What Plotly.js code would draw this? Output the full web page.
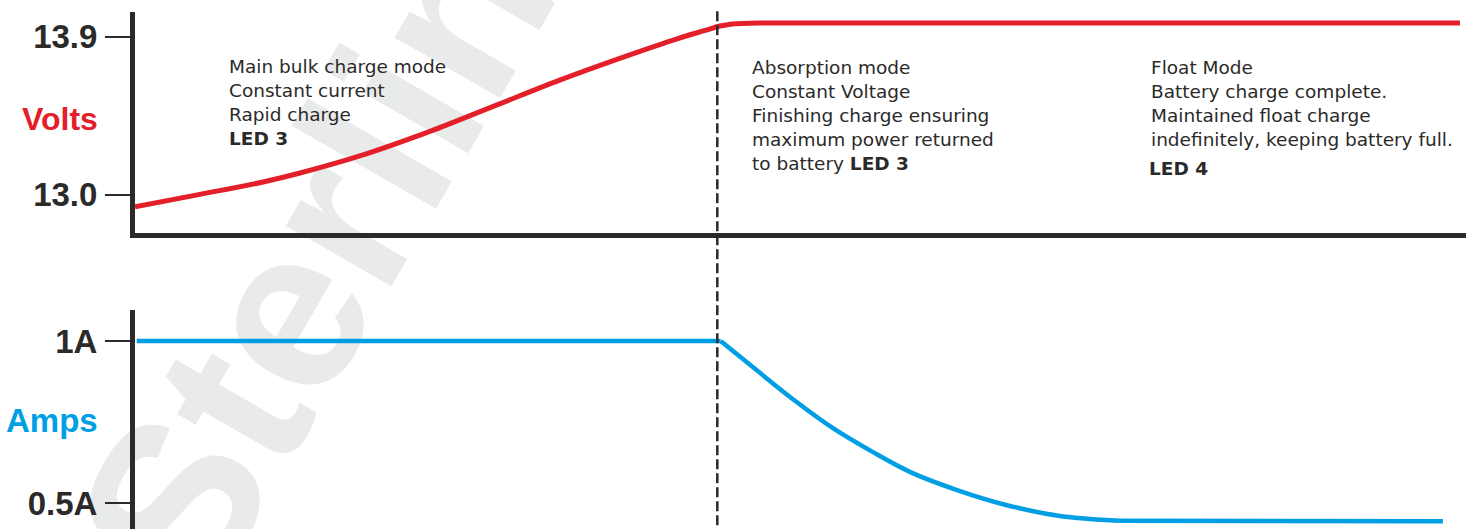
<!DOCTYPE html>
<html>
<head>
<meta charset="utf-8">
<script src="https://cdn.plot.ly/plotly-3.0.1.min.js"></script>
<style>
  html, body { margin: 0; padding: 0; background: #ffffff; }
  #chart { width: 1474px; height: 529px; }
</style>
</head>
<body>
<div id="chart"></div>
<script>
// ---- data ----
const voltTime = [0, 4.88, 9.62, 12.40, 17.13, 22.16, 27.20, 32.16, 36.96, 40.72, 42.83, 43.95, 45.08, 46.96, 99.55];
const volts    = [12.932, 13.003, 13.074, 13.125, 13.228, 13.362, 13.513, 13.661, 13.792, 13.889, 13.937, 13.962, 13.975, 13.979, 13.979];

const ampTime  = [0.13, 44.0, 46.88, 49.51, 52.44, 55.45, 58.38, 61.76, 65.44, 69.50, 74.0, 98.27];
const amps     = [1.0, 1.0, 0.904, 0.818, 0.731, 0.657, 0.593, 0.540, 0.494, 0.460, 0.445, 0.444];

const voltTickVals = [13.0, 13.9];
const voltTickText = ['13.0', '13.9'];
const ampTickVals  = [0.5, 1];
const ampTickText  = ['0.5A', '1A'];

const phaseBoundary = 43.75;

const bulkText = 'Main bulk charge mode<br>Constant current<br>Rapid charge<br><b>LED 3</b>';
const absorptionText = 'Absorption mode<br>Constant Voltage<br>Finishing charge ensuring<br>maximum power returned<br>to battery <b>LED 3</b>';
const floatText = 'Float Mode<br>Battery charge complete.<br>Maintained float charge<br>indefinitely, keeping battery full.';
const floatLed = '<b>LED 4</b>';
const watermark = 'Sterling';

// ---- styles ----
const RED = '#e3202a';
const BLUE = '#009fe3';
const INK = '#2b2a29';
const tickFont = {family: 'Liberation Sans, Arial, sans-serif', size: 33, color: INK, weight: 'bold'};
const noteFont = {family: 'DejaVu Sans, sans-serif', size: 18.5, color: INK};

const nV = voltTime.length;
const nA = ampTime.length;

const data = [
  // bulk + absorption ramp (smooth curve)
  {x: voltTime.slice(0, nV - 2), y: volts.slice(0, nV - 2), xaxis: 'x', yaxis: 'y', mode: 'lines',
   line: {color: RED, width: 5, shape: 'spline', smoothing: 1}, hoverinfo: 'skip'},
  // held voltage
  {x: voltTime.slice(nV - 3), y: volts.slice(nV - 3), xaxis: 'x', yaxis: 'y', mode: 'lines',
   line: {color: RED, width: 5, shape: 'spline', smoothing: 0.6}, hoverinfo: 'skip'},
  // constant current
  {x: ampTime.slice(0, 2), y: amps.slice(0, 2), xaxis: 'x2', yaxis: 'y2', mode: 'lines',
   line: {color: BLUE, width: 4.5}, hoverinfo: 'skip'},
  // tapering current
  {x: ampTime.slice(1, nA - 1), y: amps.slice(1, nA - 1), xaxis: 'x2', yaxis: 'y2', mode: 'lines',
   line: {color: BLUE, width: 4.5, shape: 'spline', smoothing: 1}, hoverinfo: 'skip'},
  // float current
  {x: ampTime.slice(nA - 2), y: amps.slice(nA - 2), xaxis: 'x2', yaxis: 'y2', mode: 'lines',
   line: {color: BLUE, width: 4.5}, hoverinfo: 'skip'}
];

const yCommon = {
  showline: true, linewidth: 5, linecolor: INK,
  ticks: 'outside', ticklen: 25, tickwidth: 2.5, tickcolor: INK,
  tickfont: tickFont, ticklabelstandoff: 1,
  showgrid: false, zeroline: false, fixedrange: true
};

const layout = {
  width: 1474, height: 529,
  margin: {l: 135, r: 8, t: 12, b: 0},
  paper_bgcolor: '#ffffff',
  plot_bgcolor: 'rgba(0,0,0,0)',
  showlegend: false,
  xaxis: {domain: [0, 1], range: [0, 100], anchor: 'y',
          showline: true, linewidth: 5, linecolor: INK,
          showticklabels: false, ticks: '', showgrid: false, zeroline: false, fixedrange: true},
  yaxis: Object.assign({}, yCommon, {domain: [0.5735, 1], range: [12.786, 14.042], anchor: 'x',
          tickvals: voltTickVals, ticktext: voltTickText}),
  xaxis2: {domain: [0, 1], range: [0, 100], anchor: 'y2',
          showline: false, showticklabels: false, ticks: '', showgrid: false, zeroline: false, fixedrange: true},
  yaxis2: Object.assign({}, yCommon, {domain: [0, 0.4236], range: [0.4198, 1.0957], anchor: 'x2',
          tickvals: ampTickVals, ticktext: ampTickText}),
  shapes: [
    {type: 'line', xref: 'x', yref: 'paper', x0: phaseBoundary, x1: phaseBoundary, y0: -0.02, y1: 1.0077,
     line: {color: INK, width: 2.5, dash: '10px,4px'}}
  ],
  annotations: [
    {text: watermark, xref: 'paper', yref: 'paper', x: 0.1615, y: 0.6364,
     xanchor: 'center', yanchor: 'middle', textangle: -60, showarrow: false,
     font: {family: 'Liberation Sans, Arial, sans-serif', size: 230, color: '#e9eaea', weight: 'bold'}},
    {text: 'Volts', xref: 'paper', yref: 'y', x: -0.0263, y: 13.435, xanchor: 'right', yanchor: 'middle',
     showarrow: false, font: {family: 'Liberation Sans, Arial, sans-serif', size: 32, color: RED, weight: 'bold'}},
    {text: 'Amps', xref: 'paper', yref: 'y2', x: -0.0263, y: 0.7537, xanchor: 'right', yanchor: 'middle',
     showarrow: false, font: {family: 'Liberation Sans, Arial, sans-serif', size: 33, color: BLUE, weight: 'bold'}},
    {text: bulkText, xref: 'x', yref: 'paper', x: 6.93, y: 0.919, xanchor: 'left', yanchor: 'top',
     align: 'left', showarrow: false, font: noteFont},
    {text: absorptionText, xref: 'x', yref: 'paper', x: 46.2, y: 0.9165, xanchor: 'left', yanchor: 'top',
     align: 'left', showarrow: false, font: noteFont},
    {text: floatText, xref: 'x', yref: 'paper', x: 76.15, y: 0.917, xanchor: 'left', yanchor: 'top',
     align: 'left', showarrow: false, font: noteFont},
    {text: floatLed, xref: 'x', yref: 'paper', x: 76.05, y: 0.7209, xanchor: 'left', yanchor: 'top',
     align: 'left', showarrow: false, font: noteFont}
  ]
};

Plotly.newPlot('chart', data, layout, {displayModeBar: false, staticPlot: true}).then(function (gd) {
  // place the watermark behind the traces and axes
  const wm = gd.querySelector('.infolayer .annotation[data-index="0"]');
  const cart = gd.querySelector('.main-svg .cartesianlayer');
  if (wm && cart) cart.parentNode.insertBefore(wm, cart);
});
</script>
</body>
</html>
